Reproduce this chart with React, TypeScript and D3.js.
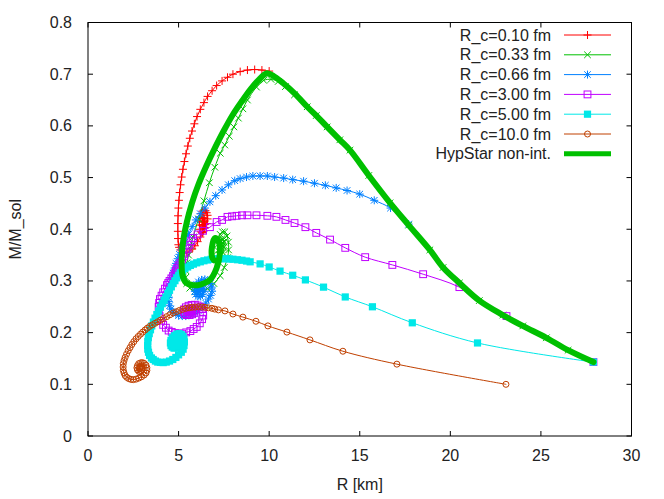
import React from 'react';
import * as d3 from 'd3';

// ---------- data (R in km, M in M_sol) ----------
const xTicks = [0, 5, 10, 15, 20, 25, 30];
const yTicks = [0, 0.1, 0.2, 0.3, 0.4, 0.5, 0.6, 0.7, 0.8];
const xLabel = 'R [km]';
const yLabel = 'M/M_sol';

const rc010: [number, number][] = [
  [10.0, 0.706], [9.6, 0.708], [9.2, 0.709], [8.8, 0.708], [8.4, 0.705], [8.0, 0.700],
  [7.7, 0.694], [7.4, 0.687], [7.1, 0.678], [6.85, 0.668], [6.6, 0.657], [6.4, 0.645],
  [6.2, 0.632], [6.02, 0.618], [5.87, 0.604], [5.74, 0.590], [5.62, 0.576], [5.51, 0.561],
  [5.41, 0.546], [5.32, 0.531], [5.24, 0.516], [5.17, 0.501], [5.11, 0.486], [5.06, 0.471],
  [5.02, 0.456], [4.99, 0.441], [4.97, 0.426], [4.96, 0.411], [4.96, 0.396], [4.97, 0.382],
  [4.99, 0.370], [5.03, 0.365], [5.1, 0.36], [5.2, 0.356], [5.3, 0.354], [5.45, 0.355],
  [5.6, 0.358], [5.75, 0.362], [5.9, 0.368], [6.05, 0.376], [6.2, 0.385], [6.33, 0.394],
  [6.45, 0.403], [6.55, 0.411], [6.6, 0.42], [6.6, 0.427], [6.55, 0.432], [6.48, 0.436],
  [6.4, 0.437], [6.32, 0.435], [6.25, 0.43], [6.19, 0.423], [6.15, 0.416], [6.15, 0.408],
  [6.18, 0.4], [6.23, 0.395], [6.3, 0.393], [6.37, 0.396], [6.42, 0.402], [6.45, 0.409],
  [6.45, 0.416], [6.42, 0.421], [6.37, 0.423], [6.32, 0.42], [6.3, 0.414], [6.31, 0.408],
  [6.35, 0.405], [6.38, 0.409], [6.37, 0.414],
];

const rc033: [number, number][] = [
  [27.9, 0.143], [26.5, 0.166], [25.3, 0.19], [24.0, 0.213], [22.9, 0.234], [21.6, 0.262],
  [20.5, 0.296], [19.6, 0.326], [18.87, 0.36], [17.7, 0.408], [16.67, 0.451], [15.5, 0.504],
  [14.46, 0.553], [13.9, 0.573], [13.2, 0.598], [12.6, 0.62], [12.1, 0.637], [11.4, 0.66],
  [10.9, 0.676], [10.5, 0.686], [10.1, 0.690], [9.7, 0.688], [9.3, 0.675], [8.8, 0.650],
  [8.55, 0.633], [8.3, 0.615], [8.05, 0.598], [7.8, 0.580], [7.55, 0.563], [7.3, 0.547],
  [7.0, 0.520], [6.7, 0.490], [6.4, 0.455], [6.1, 0.420], [5.8, 0.385], [5.67, 0.367],
  [5.55, 0.35], [5.46, 0.335], [5.4, 0.32], [5.4, 0.307], [5.45, 0.295], [5.62, 0.286],
  [5.9, 0.28], [6.25, 0.28], [6.6, 0.285], [6.95, 0.295], [7.3, 0.31], [7.52, 0.326],
  [7.7, 0.345], [7.76, 0.36], [7.75, 0.375], [7.67, 0.387], [7.55, 0.395], [7.42, 0.395],
  [7.3, 0.39], [7.2, 0.381], [7.15, 0.37], [7.17, 0.359], [7.25, 0.35], [7.35, 0.35],
  [7.45, 0.355], [7.5, 0.365], [7.5, 0.375], [7.45, 0.38], [7.4, 0.382], [7.35, 0.377],
  [7.33, 0.37], [7.38, 0.365], [7.43, 0.368], [7.42, 0.374],
];

const rc066: [number, number][] = [
  [17.7, 0.41], [16.7, 0.441], [15.8, 0.456], [15.0, 0.468], [14.3, 0.475], [13.7, 0.48],
  [13.1, 0.485], [12.5, 0.489], [11.9, 0.493], [11.3, 0.496], [10.8, 0.499], [10.3, 0.501],
  [9.9, 0.503], [9.5, 0.503], [9.1, 0.503], [8.75, 0.501], [8.4, 0.498], [8.1, 0.494],
  [7.75, 0.486], [7.4, 0.476], [7.05, 0.465], [6.73, 0.453], [6.45, 0.441], [6.2, 0.43],
  [5.95, 0.418], [5.75, 0.405], [5.55, 0.39], [5.35, 0.375], [5.25, 0.3675], [5.15, 0.36],
  [5.05, 0.3515], [4.95, 0.343], [4.86, 0.334], [4.78, 0.325], [4.7, 0.315], [4.62, 0.305],
  [4.55, 0.295], [4.5, 0.285], [4.46, 0.2765], [4.45, 0.268], [4.46, 0.26], [4.5, 0.252],
  [4.58, 0.2455], [4.7, 0.24], [4.85, 0.2365], [5.0, 0.233], [5.2, 0.232], [5.4, 0.232],
  [5.62, 0.234], [5.85, 0.237], [6.08, 0.243], [6.3, 0.25], [6.5, 0.257], [6.65, 0.265],
  [6.77, 0.272], [6.85, 0.28], [6.83, 0.288], [6.75, 0.295], [6.62, 0.3], [6.45, 0.303],
  [6.27, 0.302], [6.1, 0.298], [5.98, 0.293], [5.9, 0.287], [5.9, 0.28], [5.95, 0.274],
  [6.07, 0.27], [6.2, 0.27], [6.32, 0.274], [6.4, 0.28], [6.37, 0.286], [6.3, 0.29],
  [6.2, 0.2905], [6.1, 0.288], [6.06, 0.284], [6.1, 0.28], [6.17, 0.279], [6.22, 0.283],
  [6.18, 0.286],
];

const rc300: [number, number][] = [
  [27.9, 0.143], [23.1, 0.232], [20.5, 0.288], [18.5, 0.313], [16.8, 0.331], [15.3, 0.346],
  [14.2, 0.364], [13.36, 0.38], [12.6, 0.393], [12.0, 0.404], [11.4, 0.412], [10.9, 0.418],
  [10.4, 0.424], [9.9, 0.426], [9.3, 0.427], [8.8, 0.427], [8.5, 0.427], [8.2, 0.426],
  [7.95, 0.425], [7.7, 0.424], [7.4, 0.418], [7.1, 0.414], [6.73, 0.404], [6.35, 0.397],
  [6.05, 0.39], [5.8, 0.383], [5.7, 0.377], [5.6, 0.37], [5.5, 0.3625], [5.4, 0.355],
  [5.3, 0.3475], [5.2, 0.34], [5.1, 0.335], [5.0, 0.33], [4.92, 0.325], [4.85, 0.32],
  [4.78, 0.315], [4.7, 0.31], [4.6, 0.305], [4.5, 0.3], [4.43, 0.296], [4.36, 0.292],
  [4.25, 0.285], [4.15, 0.278], [4.06, 0.2715], [3.97, 0.265], [3.93, 0.2575], [3.9, 0.25],
  [3.91, 0.241], [3.95, 0.232], [4.04, 0.223], [4.15, 0.215], [4.3, 0.2095], [4.45, 0.204],
  [4.62, 0.2015], [4.8, 0.199], [5.0, 0.1985], [5.2, 0.198], [5.42, 0.2005], [5.65, 0.203],
  [5.83, 0.207], [6.0, 0.211], [6.17, 0.218], [6.3, 0.226], [6.36, 0.233], [6.35, 0.24],
  [6.29, 0.2455], [6.2, 0.25], [6.05, 0.2525], [5.9, 0.254], [5.72, 0.2535], [5.55, 0.252],
  [5.4, 0.249], [5.3, 0.245], [5.3, 0.24], [5.35, 0.236], [5.47, 0.234], [5.6, 0.234],
  [5.75, 0.2355], [5.85, 0.238], [5.88, 0.242], [5.85, 0.245], [5.75, 0.2465], [5.65, 0.246],
  [5.58, 0.244], [5.55, 0.241], [5.6, 0.239], [5.7, 0.24], [5.72, 0.243], [5.65, 0.2435],
];

const rc500: [number, number][] = [
  [27.9, 0.143], [21.5, 0.18], [17.9, 0.219], [15.7, 0.25], [14.2, 0.269], [13.0, 0.288],
  [12.0, 0.302], [11.3, 0.311], [10.6, 0.319], [10.0, 0.327], [9.5, 0.333], [8.95, 0.337],
  [8.75, 0.3385], [8.5, 0.34], [8.25, 0.341], [8.0, 0.342], [7.8, 0.3425], [7.6, 0.343],
  [7.4, 0.343], [7.2, 0.343], [7.0, 0.3425], [6.8, 0.342], [6.6, 0.3405], [6.4, 0.339],
  [6.2, 0.337], [6.0, 0.335], [5.82, 0.3325], [5.65, 0.33], [5.5, 0.327], [5.35, 0.324],
  [5.22, 0.32], [5.1, 0.316], [5.0, 0.311], [4.9, 0.306], [4.8, 0.3005], [4.7, 0.295],
  [4.6, 0.2885], [4.5, 0.282], [4.4, 0.2755], [4.3, 0.269], [4.2, 0.2625], [4.1, 0.256],
  [4.0, 0.249], [3.9, 0.242], [3.8, 0.235], [3.7, 0.228], [3.61, 0.2205], [3.52, 0.213],
  [3.45, 0.2055], [3.38, 0.198], [3.33, 0.19], [3.3, 0.183], [3.29, 0.175], [3.3, 0.168],
  [3.34, 0.162], [3.4, 0.156], [3.5, 0.151], [3.6, 0.148], [3.72, 0.145], [3.85, 0.143],
  [4.0, 0.1425], [4.15, 0.142], [4.32, 0.143], [4.5, 0.145], [4.68, 0.148], [4.85, 0.152],
  [5.0, 0.157], [5.15, 0.162], [5.25, 0.168], [5.3, 0.175], [5.32, 0.182], [5.3, 0.188],
  [5.24, 0.193], [5.15, 0.196], [5.03, 0.198], [4.9, 0.197], [4.77, 0.194], [4.65, 0.19],
  [4.58, 0.185], [4.55, 0.18], [4.58, 0.175], [4.65, 0.172], [4.75, 0.17], [4.85, 0.171],
  [4.95, 0.174], [5.0, 0.178], [4.99, 0.183], [4.95, 0.186], [4.87, 0.187], [4.8, 0.185],
  [4.76, 0.182], [4.75, 0.179],
];

const rc100: [number, number][] = [
  [23.07, 0.10], [17.05, 0.139], [14.07, 0.164], [12.25, 0.186], [10.98, 0.201], [9.93, 0.213],
  [9.27, 0.222], [8.55, 0.23], [8.0, 0.236], [7.56, 0.242], [7.2, 0.244], [7.0, 0.2455],
  [6.84, 0.247], [6.65, 0.248], [6.46, 0.249], [6.28, 0.2495], [6.1, 0.25], [5.92, 0.2495],
  [5.75, 0.249], [5.58, 0.248], [5.4, 0.247], [5.22, 0.245], [5.05, 0.243], [4.88, 0.2405],
  [4.7, 0.238], [4.52, 0.2345], [4.35, 0.231], [4.17, 0.2275], [4.0, 0.224], [3.85, 0.221],
  [3.7, 0.218], [3.55, 0.215], [3.4, 0.212], [3.27, 0.2085], [3.15, 0.205], [3.02, 0.201],
  [2.9, 0.197], [2.77, 0.1925], [2.65, 0.188], [2.53, 0.1825], [2.42, 0.177], [2.32, 0.171],
  [2.22, 0.165], [2.13, 0.1585], [2.05, 0.152], [1.99, 0.146], [1.95, 0.14], [1.94, 0.1335],
  [1.95, 0.127], [1.99, 0.122], [2.05, 0.117], [2.14, 0.1135], [2.25, 0.111], [2.37, 0.1095],
  [2.5, 0.109], [2.65, 0.11], [2.8, 0.112], [2.95, 0.1145], [3.1, 0.118], [3.2, 0.122],
  [3.25, 0.127], [3.25, 0.132], [3.2, 0.137], [3.1, 0.1405], [3.0, 0.142], [2.9, 0.1415],
  [2.8, 0.14], [2.73, 0.136], [2.7, 0.132], [2.73, 0.128], [2.8, 0.125], [2.88, 0.1245],
  [2.95, 0.126], [2.99, 0.129], [3.0, 0.132], [2.96, 0.1345], [2.9, 0.135], [2.86, 0.133],
  [2.85, 0.13],
];

const hypStar: [number, number][] = [
  [27.9, 0.143], [26.5, 0.166], [25.3, 0.19], [24.0, 0.213], [22.9, 0.234], [21.6, 0.262],
  [20.5, 0.296], [19.6, 0.326], [18.87, 0.36], [17.7, 0.408], [16.67, 0.451], [15.5, 0.504],
  [14.46, 0.553], [13.9, 0.573], [13.2, 0.598], [12.6, 0.62], [12.1, 0.637], [11.4, 0.663],
  [10.76, 0.683], [10.3, 0.695], [9.88, 0.702], [9.45, 0.690], [9.0, 0.672], [8.5, 0.648],
  [8.0, 0.622], [7.5, 0.591], [7.0, 0.557], [6.5, 0.520], [6.1, 0.487], [5.75, 0.452],
  [5.45, 0.413], [5.25, 0.376], [5.17, 0.34], [5.22, 0.31], [5.4, 0.297], [5.75, 0.292],
  [6.2, 0.293], [6.73, 0.302], [7.1, 0.325], [7.28, 0.355], [7.2, 0.378], [7.0, 0.383],
  [6.84, 0.365], [6.86, 0.345], [6.95, 0.34],
];

const legendLabels = [
  'R_c=0.10 fm', 'R_c=0.33 fm', 'R_c=0.66 fm', 'R_c=3.00 fm',
  'R_c=5.00 fm', 'R_c=10.0 fm', 'HypStar non-int.',
];
const seriesColors = ['#ff0000', '#00c000', '#0080ff', '#c000ff', '#00e8e8', '#c04000', '#00c000'];
const seriesMarkers = ['plus', 'cross', 'star', 'openSquare', 'filledSquare', 'openCircle', 'none'];
const seriesData = [rc010, rc033, rc066, rc300, rc500, rc100, hypStar];

// ---------- layout ----------
const W = 664;
const H = 499;
const left = 88;
const right = 631.5;
const top = 22.5;
const bottom = 436;
const FONT = '"Liberation Sans", Arial, sans-serif';

function Marker({ type, x, y, color }: { type: string; x: number; y: number; color: string }) {
  const s = 4;
  const c = 3.3;
  if (type === 'plus') {
    return <path d={`M${x - s},${y}H${x + s}M${x},${y - s}V${y + s}`} stroke={color} strokeWidth={1} fill="none" />;
  }
  if (type === 'cross') {
    return <path d={`M${x - c},${y - c}L${x + c},${y + c}M${x - c},${y + c}L${x + c},${y - c}`} stroke={color} strokeWidth={1} fill="none" />;
  }
  if (type === 'star') {
    return (
      <path
        d={`M${x - s},${y}H${x + s}M${x},${y - s}V${y + s}M${x - c},${y - c}L${x + c},${y + c}M${x - c},${y + c}L${x + c},${y - c}`}
        stroke={color} strokeWidth={1} fill="none"
      />
    );
  }
  if (type === 'openSquare') {
    return <rect x={x - 3.4} y={y - 3.4} width={6.8} height={6.8} stroke={color} strokeWidth={1} fill="none" />;
  }
  if (type === 'filledSquare') {
    return <rect x={x - 3.6} y={y - 3.6} width={7.2} height={7.2} fill={color} stroke="none" />;
  }
  if (type === 'openCircle') {
    return <circle cx={x} cy={y} r={3} stroke={color} strokeWidth={1} fill="none" />;
  }
  return null;
}

export default function App() {
  const xs = d3.scaleLinear().domain([0, 30]).range([left, right]);
  const ys = d3.scaleLinear().domain([0, 0.8]).range([bottom, top]);
  const line = d3
    .line<[number, number]>()
    .x((d) => xs(d[0]))
    .y((d) => ys(d[1]))
    .curve(d3.curveCatmullRom.alpha(0.5));

  const legendX0 = 564;
  const legendX1 = 611;
  const legendTextX = 551;
  const legendY0 = 35;
  const legendDy = 19.8;

  return (
    <svg
      width={W}
      height={H}
      viewBox={`0 0 ${W} ${H}`}
      style={{ position: 'absolute', left: 0, top: 0, background: '#fff' }}
      fontFamily={FONT}
    >
      <rect x={0} y={0} width={W} height={H} fill="#fff" />

      {/* ticks */}
      {xTicks.map((t) => (
        <g key={`xt${t}`}>
          <line x1={xs(t)} x2={xs(t)} y1={bottom} y2={bottom - 5} stroke="#000" />
          <line x1={xs(t)} x2={xs(t)} y1={top} y2={top + 5} stroke="#000" />
          <text x={xs(t)} y={461} textAnchor="middle" fontSize={16} fill="#222">
            {t}
          </text>
        </g>
      ))}
      {yTicks.map((t) => (
        <g key={`yt${t}`}>
          <line x1={left} x2={left + 5} y1={ys(t)} y2={ys(t)} stroke="#000" />
          <line x1={right} x2={right - 5} y1={ys(t)} y2={ys(t)} stroke="#000" />
          <text x={72} y={ys(t) + 5.5} textAnchor="end" fontSize={16} fill="#222">
            {t === 0 ? '0' : t.toFixed(1)}
          </text>
        </g>
      ))}

      {/* series */}
      {seriesData.map((data, i) => {
        const isThick = i === seriesData.length - 1;
        return (
          <g key={`s${i}`}>
            <path
              d={line(data) || ''}
              stroke={seriesColors[i]}
              strokeWidth={isThick ? 6 : 1}
              fill="none"
              strokeLinejoin="round"
              strokeLinecap="round"
            />
            {data.map((d, j) => (
              <Marker key={j} type={seriesMarkers[i]} x={xs(d[0])} y={ys(d[1])} color={seriesColors[i]} />
            ))}
          </g>
        );
      })}

      {/* frame */}
      <rect x={left} y={top} width={right - left} height={bottom - top} fill="none" stroke="#000" strokeWidth={1} />

      {/* legend */}
      {legendLabels.map((lab, i) => {
        const y = legendY0 + i * legendDy;
        const isThick = i === legendLabels.length - 1;
        return (
          <g key={`lg${i}`}>
            <text x={legendTextX} y={y + 5.5} textAnchor="end" fontSize={16} fill="#222">
              {lab}
            </text>
            <line
              x1={legendX0}
              x2={legendX1}
              y1={y}
              y2={y}
              stroke={seriesColors[i]}
              strokeWidth={isThick ? 5 : 1}
            />
            <Marker type={seriesMarkers[i]} x={(legendX0 + legendX1) / 2} y={y} color={seriesColors[i]} />
          </g>
        );
      })}

      {/* axis titles */}
      <text x={(left + right) / 2} y={490} textAnchor="middle" fontSize={16} fill="#222">
        {xLabel}
      </text>
      <text
        transform={`translate(21,${(top + bottom) / 2}) rotate(-90)`}
        textAnchor="middle"
        fontSize={16}
        fill="#222"
      >
        {yLabel}
      </text>
    </svg>
  );
}
